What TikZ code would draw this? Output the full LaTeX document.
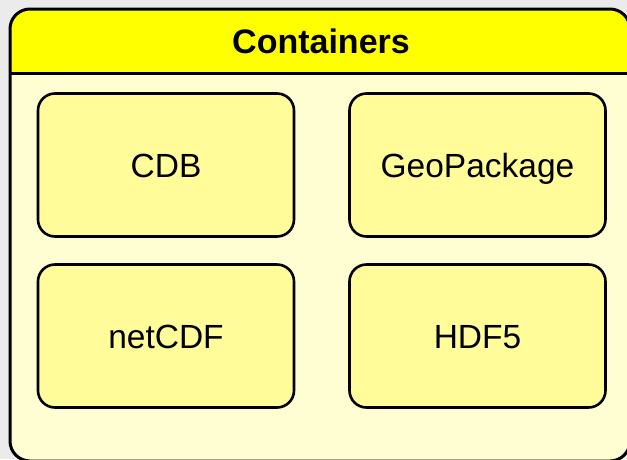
\documentclass[tikz,border=0pt]{standalone}
\usepackage{fontspec}
\setmainfont{Liberation Sans}
\definecolor{bggray}{HTML}{EBEBEB}
\definecolor{headyellow}{HTML}{FFFF00}
\definecolor{bodyyellow}{HTML}{FFFDD2}
\definecolor{boxyellow}{HTML}{FFFC99}
\tikzset{
  itembox/.style={draw=black, line width=2.6pt, fill=boxyellow, rounded corners=17pt,
    minimum width=256pt, minimum height=143pt, inner sep=0pt,
    font=\fontsize{33.5}{40}\selectfont, text height=24pt, text depth=0pt},
  titletext/.style={font=\fontsize{34}{40}\selectfont\bfseries, inner sep=0pt,
    text height=24.5pt, text depth=0pt}
}
\begin{document}
\begin{tikzpicture}[x=1pt,y=-1pt]
\useasboundingbox (0,0) rectangle (627,459);
\fill[bggray] (0,0) rectangle (627,459);
\clip (0,0) rectangle (627,459);
% outer container
\fill[bodyyellow, rounded corners=20pt] (10,9) rectangle (630,461);
\begin{scope}
  \clip (0,0) rectangle (640,73.5);
  \fill[headyellow, rounded corners=20pt] (10,9) rectangle (630,461);
\end{scope}
\draw[line width=3pt] (10,73.5) -- (630,73.5);
\draw[line width=3pt, rounded corners=20pt] (10,9) rectangle (630,461);
\node[titletext] (title) at (321,41.5) {Containers};
% items
\node[itembox] (cdb) at (166,165) {CDB};
\node[itembox] (geo) at (477.5,165) {GeoPackage};
\node[itembox] (netcdf) at (166,336) {netCDF};
\node[itembox] (hdf) at (477.5,336) {HDF5};
\end{tikzpicture}
\end{document}
